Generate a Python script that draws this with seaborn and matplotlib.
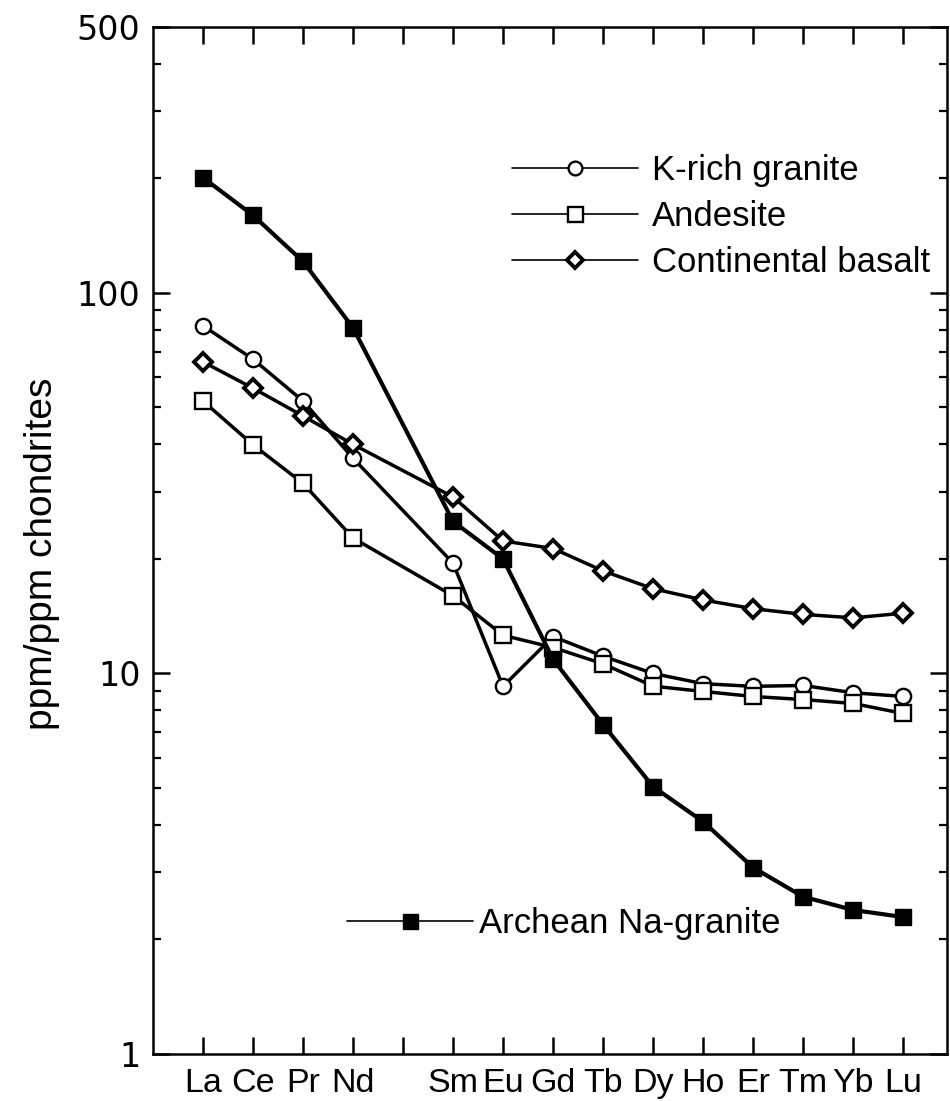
import numpy as np
import pandas as pd
import matplotlib
matplotlib.use("Agg")
import matplotlib.pyplot as plt
import seaborn as sns
from matplotlib.lines import Line2D

# REE order (Pm left blank on the axis)
elements = ["La", "Ce", "Pr", "Nd", "Pm", "Sm", "Eu", "Gd", "Tb", "Dy", "Ho", "Er", "Tm", "Yb", "Lu"]
tick_labels = ["La", "Ce", "Pr", "Nd", "", "Sm", "Eu", "Gd", "Tb", "Dy", "Ho", "Er", "Tm", "Yb", "Lu"]
plotted = ["La", "Ce", "Pr", "Nd", "Sm", "Eu", "Gd", "Tb", "Dy", "Ho", "Er", "Tm", "Yb", "Lu"]

k_rich_granite = [82, 67, 52, 36.8, 19.5, 9.25, 12.5, 11.1, 10.0, 9.4, 9.25, 9.3, 8.9, 8.7]
andesite = [52, 39.9, 31.6, 22.7, 16.0, 12.6, 11.7, 10.6, 9.26, 8.97, 8.7, 8.54, 8.34, 7.85]
continental_basalt = [65.9, 56.2, 47.5, 40.0, 29.1, 22.3, 21.3, 18.6, 16.7, 15.6, 14.8, 14.3, 14.0, 14.4]
archean_na_granite = [201, 160, 121, 81, 25.1, 20.0, 10.9, 7.34, 5.04, 4.08, 3.09, 2.59, 2.39, 2.29]

series = {
    "K-rich granite": k_rich_granite,
    "Andesite": andesite,
    "Continental basalt": continental_basalt,
    "Archean Na-granite": archean_na_granite,
}

rows = []
for name, vals in series.items():
    for el, v in zip(plotted, vals):
        rows.append({"series": name, "element": el, "pos": elements.index(el), "value": v})
df = pd.DataFrame(rows)

sns.set_style("ticks")
plt.rcParams["font.family"] = ["Liberation Sans", "DejaVu Sans"]
plt.rcParams["text.color"] = "black"
plt.rcParams["axes.labelcolor"] = "black"
plt.rcParams["xtick.color"] = "black"
plt.rcParams["ytick.color"] = "black"
plt.rcParams["axes.edgecolor"] = "black"

fig = plt.figure(figsize=(9.5, 11.01), dpi=100)
ax = fig.add_axes([0.161, 0.0427, 0.836, 0.9328])

styles = {
    "K-rich granite": dict(marker="o", markerfacecolor="white", markersize=11, markeredgewidth=1.7, linewidth=2.5),
    "Andesite": dict(marker="s", markerfacecolor="white", markersize=12, markeredgewidth=1.7, linewidth=2.5),
    "Continental basalt": dict(marker="D", markerfacecolor="white", markersize=9, markeredgewidth=2.8, linewidth=2.5),
    "Archean Na-granite": dict(marker="s", markerfacecolor="black", markersize=12, markeredgewidth=1.0, linewidth=3.0),
}

for name in series:
    sns.lineplot(data=df[df["series"] == name], x="pos", y="value", ax=ax, color="black",
                 markeredgecolor="black", legend=False, estimator=None, sort=False, **styles[name])

ax.set_yscale("log")
ax.set_ylim(1, 500)
ax.set_xlim(-1, 14.88)
ax.set_yticks([1, 10, 100, 500])
ax.set_yticklabels(["1", "10", "100", "500"], fontfamily="DejaVu Sans", fontsize=24)
ax.yaxis.set_minor_locator(matplotlib.ticker.LogLocator(base=10, subs=np.arange(2, 10), numticks=20))
ax.yaxis.set_minor_formatter(matplotlib.ticker.NullFormatter())
ax.set_xticks(range(len(elements)))
ax.set_xticklabels(tick_labels, fontsize=24.5)
ax.set_xlabel("")
ax.set_ylabel("ppm/ppm chondrites", fontsize=28)
ax.yaxis.set_label_coords(-0.117, 0.487)

for s in ax.spines.values():
    s.set_linewidth(1.8)
    s.set_visible(True)
ax.tick_params(axis="both", which="major", direction="in", top=True, right=True,
               length=12, width=1.8, color="black")
ax.tick_params(axis="y", which="major", pad=9)
ax.tick_params(axis="x", which="major", pad=10)
ax.tick_params(axis="y", which="minor", direction="in", right=True, length=6, width=1.6)
ax.tick_params(axis="x", which="minor", bottom=False, top=False)


# legends drawn with thin handle lines, marker in the middle
def handle(name):
    st = dict(styles[name])
    st["markersize"] = st["markersize"] * 0.9
    st["linewidth"] = 1.2
    return Line2D([], [], color="black", markeredgecolor="black", **st)


top_names = ["K-rich granite", "Andesite", "Continental basalt"]
leg1 = ax.legend([handle(n) for n in top_names], top_names, loc="upper left",
                 bbox_to_anchor=(0.452, 0.876), frameon=False, fontsize=25,
                 handlelength=3.63, handletextpad=0.4, labelspacing=0.37,
                 borderpad=0, borderaxespad=0, numpoints=1)
ax.add_artist(leg1)
ax.legend([handle("Archean Na-granite")], ["Archean Na-granite"], loc="upper left",
          bbox_to_anchor=(0.244, 0.143), frameon=False, fontsize=25,
          handlelength=3.63, handletextpad=0.17, borderpad=0, borderaxespad=0, numpoints=1)

fig.savefig("out.png", dpi=100)
